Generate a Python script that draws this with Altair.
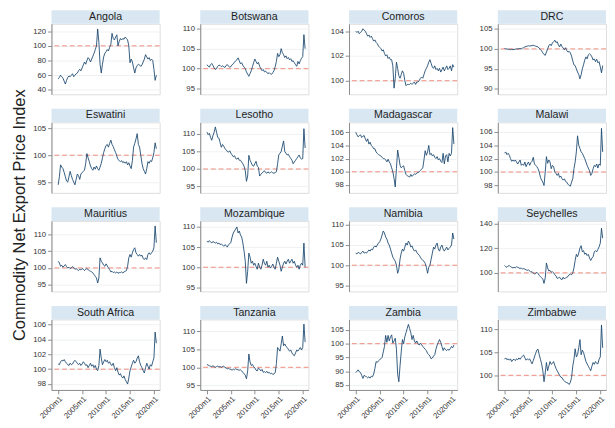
import altair as alt
import pandas as pd

countries = ["Angola", "Botswana", "Comoros", "DRC",
             "Eswatini", "Lesotho", "Madagascar", "Malawi",
             "Mauritius", "Mozambique", "Namibia", "Seychelles",
             "South Africa", "Tanzania", "Zambia", "Zimbabwe"]

# quarterly observations 2000m1 ... 2020m7
months = [f"{2000 + q // 4}m{1 + 3 * (q % 4)}" for q in range(83)]

angola = [55, 57, 60, 58, 56, 52, 48, 53, 57, 59, 58, 60, 62, 58, 60, 62, 63, 66, 68, 66,
          70, 74, 78, 75, 80, 84, 82, 78, 82, 86, 90, 95, 100, 123, 105, 75, 63, 75, 85, 90,
          92, 95, 93, 98, 102, 117, 110, 108, 112, 115, 100, 106, 110, 108, 110, 109, 112, 110, 108, 100,
          77, 82, 78, 70, 63, 70, 73, 75, 74, 72, 74, 78, 82, 88, 85, 82, 84, 80, 82, 80,
          68, 53, 60]
botswana = [101.0, 100.6, 100.4, 101.0, 101.3, 100.8, 100.2, 99.8, 100.0, 100.6, 100.9, 100.8,
            100.5, 100.7, 100.5, 100.3, 100.8, 101.0, 100.6, 100.4, 100.5, 101.0, 101.2, 101.6,
            102.0, 102.2, 102.7, 102.0, 101.2, 101.5, 100.8, 100.4, 100.0, 99.2, 98.6, 98.1,
            98.8, 99.5, 100.5, 101.5, 102.4, 101.8, 101.2, 101.6, 100.6, 100.0, 99.5, 99.8,
            99.2, 99.4, 99.0, 98.8, 99.0, 98.7, 98.6, 99.0, 99.5, 100.5, 101.8, 103.8,
            103.0, 103.5, 105.0, 104.0, 103.5, 102.8, 103.2, 102.5, 102.8, 102.2, 102.5, 101.8,
            102.0, 101.5, 101.0, 100.6, 101.8, 101.2, 102.0, 102.6, 103.0, 108.5, 105.0]
comoros = [104.0, 103.9, 104.0, 103.8, 103.9, 104.0, 104.2, 104.1, 104.0, 103.8, 103.6, 103.7,
           103.5, 103.6, 103.4, 103.2, 103.3, 103.1, 103.0, 102.8, 102.7, 102.6, 102.4, 102.5,
           102.2, 102.0, 102.1, 101.8, 101.9, 101.7, 101.7, 101.2, 99.4, 100.2, 101.5, 101.0,
           100.4, 100.2, 100.5, 100.8, 100.6, 100.0, 99.6, 99.7, 99.7, 99.7, 99.8, 99.7,
           99.8, 99.9, 99.7, 99.9, 99.9, 100.0, 100.2, 100.3, 100.2, 100.5, 100.8, 101.0,
           101.2, 101.5, 101.7, 101.4, 101.1, 101.0, 101.2, 100.9, 101.0, 100.8, 101.0, 100.7,
           100.9, 101.1, 100.8, 101.0, 101.2, 100.9, 101.0, 101.2, 100.8, 101.3, 101.1]
drc = [100.1, 100.0, 100.0, 99.9, 99.9, 99.8, 99.9, 99.8, 99.9, 99.9, 100.0, 100.0,
       100.0, 100.1, 100.0, 100.2, 100.3, 100.5, 100.6, 100.7, 100.8, 100.7, 100.8, 100.8,
       100.9, 100.8, 100.7, 100.6, 100.5, 100.2, 99.8, 99.5, 99.0, 98.6, 98.4, 99.2,
       100.0, 100.8, 101.2, 100.8, 101.5, 101.8, 102.2, 101.6, 101.8, 101.0, 100.5, 101.2,
       100.6, 100.2, 99.8, 100.3, 99.6, 99.2, 99.4, 99.0, 98.2, 97.0, 96.0, 95.8,
       95.0, 94.2, 93.6, 92.5, 93.5, 95.0, 96.0, 97.2, 98.0, 97.5, 98.5, 98.8,
       98.5, 98.0, 97.2, 97.5, 96.8, 97.4, 96.5, 96.8, 95.5, 94.0, 95.8]
eswatini = [94.5, 96.0, 98.2, 97.8, 97.5, 96.8, 96.0, 95.2, 95.0, 96.0, 97.0, 96.2,
            95.5, 95.0, 94.5, 95.5, 96.5, 96.2, 95.5, 96.5, 96.8, 97.0, 97.2, 98.5,
            100.3, 99.5, 98.8, 98.0, 97.5, 97.2, 97.8, 97.4, 98.0, 97.5, 97.2, 97.8,
            98.5, 99.5, 100.5, 101.2, 101.8, 102.0, 101.5, 102.2, 102.8, 102.0, 101.6, 101.0,
            100.5, 99.8, 99.2, 99.0, 98.8, 99.0, 98.6, 98.8, 98.5, 98.8, 98.2, 98.6,
            98.0, 97.5, 99.0, 101.5, 102.2, 103.0, 104.0, 102.0, 101.5, 100.0, 98.5, 97.5,
            97.0, 96.5, 97.5, 98.8, 98.5, 99.0, 98.8, 99.5, 100.5, 102.3, 101.2]
lesotho = [110.5, 109.8, 110.2, 109.0, 108.2, 109.5, 110.5, 112.0, 110.5, 109.0, 108.8, 107.5,
           106.2, 107.0, 106.5, 105.8, 105.5, 105.0, 104.8, 105.2, 104.5, 104.0, 103.5, 103.8,
           103.0, 102.8, 103.2, 102.5, 102.5, 102.0, 101.5, 100.8, 99.5, 96.5, 98.0, 103.9,
           102.5, 101.8, 101.0, 100.8, 101.5, 102.2, 100.8, 100.5, 98.0, 98.5, 98.8, 99.2,
           99.5, 99.0, 98.8, 99.2, 98.8, 99.0, 99.2, 98.9, 98.8, 99.0, 99.2, 101.5,
           104.0, 104.5, 105.0, 106.5, 108.0, 105.0, 104.5, 104.0, 104.2, 103.5, 103.0, 102.5,
           101.5, 102.0, 102.5, 103.0, 103.5, 104.0, 103.2, 102.8, 103.0, 111.5, 106.0]
madagascar = [106.0, 105.6, 105.3, 105.5, 105.6, 105.2, 105.4, 105.5, 105.0, 104.6, 105.0, 104.2,
              104.5, 104.0, 103.8, 103.5, 103.5, 103.0, 102.8, 102.6, 102.5, 102.4, 102.2, 102.0,
              102.0, 101.8, 101.5, 101.9, 101.5, 101.2, 100.6, 100.0, 99.0, 97.7, 100.5, 103.3,
              102.2, 101.0, 100.6, 100.8, 100.9, 100.2, 99.6, 99.4, 99.3, 99.2, 99.6, 99.3,
              99.5, 99.7, 99.6, 99.8, 99.9, 100.0, 100.2, 100.4, 100.6, 101.8, 103.2, 102.5,
              103.0, 104.0, 102.6, 102.8, 102.4, 102.6, 102.2, 102.0, 102.3, 101.8, 102.0, 101.6,
              101.4, 102.8, 101.2, 102.4, 102.6, 101.5, 102.8, 102.4, 102.8, 106.7, 104.2]
malawi = [102.8, 103.0, 102.6, 102.8, 102.5, 102.0, 101.6, 101.8, 101.6, 101.8, 101.5, 101.2,
          101.5, 101.8, 101.0, 101.2, 101.0, 101.5, 100.8, 101.2, 101.5, 101.0, 101.4, 101.6,
          102.2, 101.2, 101.0, 100.8, 100.5, 100.0, 99.2, 98.8, 98.5, 98.0, 100.0, 102.3,
          101.3, 101.8, 101.5, 100.5, 101.0, 100.8, 100.0, 99.8, 99.5, 99.8, 99.2, 99.4,
          99.0, 98.8, 99.0, 98.6, 98.5, 98.2, 98.0, 97.9, 98.5, 99.0, 100.5, 101.5,
          103.0, 105.4, 104.0, 103.5, 103.0, 102.8, 102.4, 102.0, 101.5, 101.0, 100.6, 100.2,
          99.5, 99.8, 100.5, 101.0, 100.8, 101.2, 100.6, 101.2, 101.0, 106.5, 103.0]
mauritius = [102.0, 101.5, 100.5, 100.8, 100.2, 100.6, 101.0, 100.4, 100.0, 100.2, 99.8, 100.0,
             100.4, 100.0, 99.6, 99.8, 99.5, 99.2, 99.6, 99.4, 99.8, 99.6, 99.2, 99.6,
             99.8, 99.5, 99.2, 99.0, 98.8, 98.5, 98.0, 97.5, 97.0, 95.5, 97.0, 103.0,
             102.0, 101.5, 100.8, 100.5, 101.2, 100.6, 100.0, 99.5, 98.8, 99.0, 98.6, 98.8,
             98.5, 98.8, 98.4, 98.6, 98.6, 98.8, 98.5, 98.8, 99.0, 99.2, 100.5, 103.0,
             104.0, 103.2, 104.5, 105.5, 106.0, 104.5, 104.0, 103.5, 104.0, 103.5, 103.8, 102.8,
             102.5, 103.0, 102.5, 104.0, 104.5, 104.0, 104.5, 105.0, 106.0, 112.5, 107.5]
mozambique = [106.5, 106.2, 106.6, 106.3, 106.0, 106.4, 106.2, 106.0, 106.2, 105.8, 106.0, 105.6,
              105.8, 105.5, 105.2, 105.6, 105.4, 105.0, 105.6, 105.8, 106.2, 107.5, 108.5, 109.0,
              109.5, 110.0, 108.5, 109.0, 108.0, 107.5, 106.0, 104.0, 101.5, 96.0, 99.0, 103.5,
              102.5, 101.0, 101.5, 100.5, 101.0, 100.2, 99.5, 101.0, 100.0, 99.5, 100.5, 102.0,
              101.0, 100.5, 101.5, 100.0, 100.5, 99.8, 100.2, 100.8, 100.0, 99.5, 101.0, 102.5,
              101.5, 100.5, 99.0, 100.0, 101.0, 101.5, 100.8, 101.5, 102.0, 101.0, 101.5, 102.0,
              101.0, 101.5, 100.5, 100.0, 100.5, 99.5, 100.5, 101.0, 100.5, 106.0, 100.0]
namibia = [103.0, 102.8, 103.2, 103.0, 102.8, 103.2, 103.5, 103.0, 103.2, 103.0, 103.4, 103.8,
           103.5, 104.0, 103.8, 104.5, 104.8, 104.5, 105.0, 105.5, 105.8, 106.5, 107.5, 108.5,
           108.0, 107.0, 106.5, 105.5, 105.0, 104.0, 103.0, 102.0, 101.5, 101.0, 100.0, 98.0,
           99.0, 101.5, 103.0, 104.0, 103.5, 104.5, 105.5, 105.0, 106.0, 105.5, 104.5, 104.8,
           104.0, 103.5, 103.8, 103.2, 102.8, 102.5, 102.0, 101.5, 101.2, 101.0, 100.5, 99.5,
           98.0, 99.5, 100.0, 101.5, 103.0, 104.5, 104.0, 105.0, 105.5, 104.0, 103.5, 104.5,
           105.0, 104.0, 103.5, 104.0, 104.5, 103.8, 104.2, 104.5, 105.0, 108.0, 106.5]
seychelles = [106.0, 105.0, 104.5, 105.5, 106.0, 105.0, 104.5, 104.0, 104.5, 104.0, 105.0, 104.5,
              104.0, 103.5, 104.0, 103.0, 103.5, 103.0, 102.5, 102.0, 102.5, 101.5, 100.5, 101.0,
              100.0, 99.0, 99.5, 100.5, 99.5, 98.0, 97.0, 96.0, 95.0, 91.5, 96.0, 108.0,
              104.0, 101.5, 102.0, 100.5, 101.0, 100.0, 98.5, 97.5, 95.5, 96.0, 96.5, 95.0,
              94.5, 96.5, 95.0, 96.0, 96.5, 97.0, 98.5, 99.0, 98.5, 100.0, 104.0, 110.0,
              115.0, 113.0, 116.0, 120.0, 122.0, 117.0, 118.0, 115.0, 116.0, 114.0, 115.0, 112.0,
              110.0, 112.0, 113.0, 117.0, 118.0, 117.0, 119.0, 121.0, 124.0, 136.0, 128.0]
south_africa = [100.7, 100.6, 101.0, 101.2, 101.1, 101.3, 101.0, 100.8, 100.6, 100.5, 100.8, 100.6,
                100.7, 101.0, 101.2, 101.0, 100.8, 100.6, 100.8, 100.5, 100.7, 101.0, 100.8, 100.5,
                100.6, 100.2, 100.5, 100.8, 100.4, 100.6, 100.2, 100.5, 100.0, 99.8, 100.5, 102.7,
                101.5, 100.6, 101.0, 101.3, 101.0, 101.2, 100.8, 101.0, 100.6, 100.5, 100.8, 100.2,
                99.8, 100.2, 99.6, 99.2, 99.4, 99.0, 98.8, 99.1, 98.6, 98.3, 98.0, 98.8,
                99.8, 100.3, 100.8, 101.2, 100.8, 101.0, 101.5, 101.8, 101.0, 100.5, 100.2, 99.8,
                99.5, 100.2, 100.8, 100.4, 100.0, 100.6, 100.4, 101.0, 101.5, 105.0, 103.5]
tanzania = [100.8, 100.6, 100.4, 100.3, 100.2, 100.4, 100.2, 100.0, 100.2, 100.3, 100.1, 100.2,
            100.0, 100.2, 100.3, 100.0, 99.8, 99.6, 99.7, 99.5, 99.4, 99.2, 99.5, 99.3,
            99.6, 99.4, 99.3, 99.2, 99.3, 99.0, 98.6, 98.2, 97.8, 96.8, 99.0, 103.7,
            101.5, 100.5, 100.8, 100.2, 99.8, 99.2, 99.0, 99.8, 99.5, 99.0, 99.4, 98.6,
            98.8, 98.5, 98.9, 98.4, 98.6, 98.2, 98.4, 98.0, 98.2, 98.5, 101.0, 105.5,
            105.0, 104.5, 106.5, 108.7, 106.0, 106.5, 105.8, 105.5, 105.0, 104.5, 104.8, 104.0,
            103.5, 103.2, 104.0, 104.8, 104.5, 105.0, 105.5, 104.8, 105.5, 112.0, 107.0]
zambia = [89.5, 90.0, 90.5, 89.8, 89.5, 88.5, 87.4, 88.5, 88.2, 88.0, 87.6, 88.0,
          87.5, 88.2, 88.0, 89.0, 91.0, 93.5, 93.2, 93.8, 94.2, 94.5, 95.0, 97.0,
          99.0, 103.0, 100.5, 103.0, 101.0, 102.5, 103.2, 100.2, 101.0, 102.0, 98.0, 89.0,
          86.2, 92.0, 97.0, 101.5, 100.0, 102.5, 104.0, 105.5, 107.0, 105.5, 104.0, 101.5,
          103.0, 101.0, 100.2, 101.0, 100.0, 99.5, 100.2, 99.6, 99.0, 98.5, 98.0, 97.5,
          96.5, 96.0, 95.5, 94.5, 94.8, 95.5, 96.0, 98.0, 99.5, 100.5, 101.5, 100.5,
          99.0, 97.5, 98.5, 97.8, 97.5, 98.0, 97.6, 98.2, 99.0, 98.5, 99.5]
zimbabwe = [103.5, 103.8, 103.4, 103.6, 103.3, 103.6, 103.0, 103.4, 103.5, 103.2, 103.6, 103.4,
            103.8, 103.5, 103.9, 104.2, 104.4, 103.8, 103.3, 103.6, 103.4, 103.6, 103.0, 102.5,
            103.2, 104.0, 104.8, 105.5, 105.7, 104.5, 103.5, 102.5, 101.0, 98.6, 100.5, 102.8,
            101.0, 102.0, 103.0, 102.4, 102.6, 103.0, 102.2, 101.5, 101.0, 100.5, 100.0, 99.6,
            99.5, 99.0, 98.8, 98.5, 98.4, 98.3, 98.0, 98.5, 99.5, 102.0, 103.5, 105.8,
            104.0, 104.5, 106.0, 107.8, 104.5, 105.5, 105.0, 104.0, 103.0, 102.5, 102.0, 101.5,
            101.0, 102.0, 102.8, 102.4, 103.0, 102.6, 102.5, 103.5, 104.0, 111.0, 106.0]

series = [angola, botswana, comoros, drc, eswatini, lesotho, madagascar, malawi,
          mauritius, mozambique, namibia, seychelles, south_africa, tanzania, zambia, zimbabwe]

y_domains = [[34, 130], [93.6, 111.2], [98.9, 104.6], [88.6, 106.3],
             [93.0, 106.1], [93.2, 113.3], [96.8, 107.5], [96.9, 107.4],
             [93.0, 114.0], [94.0, 111.5], [93.5, 111.0], [85, 142],
             [97.2, 106.7], [93.7, 113.3], [83.2, 108.8], [96.8, 112.2]]
y_ticks = [[40, 60, 80, 100, 120], [95, 100, 105, 110], [100, 102, 104], [90, 95, 100, 105],
           [95, 100, 105], [95, 100, 105, 110], [98, 100, 102, 104, 106], [98, 100, 102, 104, 106],
           [95, 100, 105, 110], [95, 100, 105, 110], [95, 100, 105, 110], [100, 120, 140],
           [98, 100, 102, 104, 106], [95, 100, 105, 110], [85, 90, 95, 100, 105], [100, 105, 110]]
x_ticks = [2000, 2005, 2010, 2015, 2020]
reference_level = [100]

W, H, HEAD = 112, 73, 14
FONT = "Liberation Sans"


def to_year(m):
    y, mm = m.split("m")
    return int(y) + (int(mm) - 1) / 12


t_vals = [to_year(m) for m in months]

panels = []
for i, (name, vals) in enumerate(zip(countries, series)):
    bottom = i >= 12
    df = pd.DataFrame({"t": t_vals, "v": vals})
    if bottom:
        xaxis = alt.Axis(values=x_ticks, title=None, labelExpr="datum.value + 'm1'",
                         labelAngle=-45, labelOverlap=False, grid=False, labelFontSize=8,
                         labelColor="#333", domainColor="#8a8a8a", tickColor="#8a8a8a",
                         tickSize=4, labelPadding=1)
    else:
        xaxis = None
    xenc = alt.X("t:Q", scale=alt.Scale(domain=[1998.6, 2021.2], nice=False, zero=False), axis=xaxis)
    yenc = alt.Y("v:Q", scale=alt.Scale(domain=y_domains[i], nice=False, zero=False),
                 axis=alt.Axis(values=y_ticks[i], title=None, grid=True, gridColor="#edf0f3",
                               labelFontSize=8, labelColor="#333", domainColor="#8a8a8a",
                               tickColor="#8a8a8a", tickSize=4, labelPadding=2))
    hdr = pd.DataFrame({"name": [name]})
    head_rect = alt.Chart(hdr).mark_rect(color="#d9e7f2").encode(
        x=alt.value(0), x2=alt.value(W), y=alt.value(-HEAD), y2=alt.value(0))
    head_text = alt.Chart(hdr).mark_text(font=FONT, fontSize=11, color="#1e1e1e",
                                         baseline="middle", align="center").encode(
        x=alt.value(W / 2), y=alt.value(-HEAD / 2), text="name:N")
    rule = alt.Chart(pd.DataFrame({"v": reference_level})).mark_rule(
        color="#ef8a7a", strokeDash=[5, 3], strokeWidth=1).encode(y=yenc)
    line = alt.Chart(df).mark_line(color="#1a476f", strokeWidth=0.9, clip=True).encode(x=xenc, y=yenc)
    panels.append(alt.layer(rule, line, head_rect, head_text).properties(width=W, height=H))

chart = alt.concat(*panels, columns=4, spacing={"row": 13, "column": 21}).properties(
    title=alt.TitleParams("Commodity Net Export Price Index", orient="left", anchor="middle",
                          fontSize=17, font=FONT, fontWeight="normal", color="#222", offset=4),
    padding={"left": 3, "top": -6, "right": 0, "bottom": 0},
).configure_view(stroke=None).configure(font=FONT)

chart.save("out.html", embed_options={"renderer": "svg", "actions": False})
